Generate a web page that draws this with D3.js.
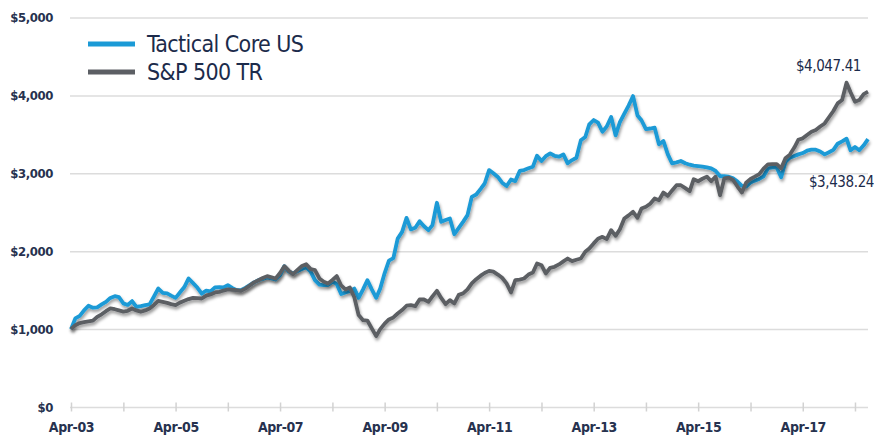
<html>
<head>
<style>
  body { margin: 0; background: #fff; }
  svg { display: block; }
  text { font-family: "Liberation Sans Narrow", "DejaVu Sans Condensed", "Roboto Condensed", sans-serif; fill: #1c2b4b; }
</style>
<script src="https://cdn.jsdelivr.net/npm/d3@7/dist/d3.min.js"></script>
</head>
<body>
<svg id="chart"></svg>
<script>
// monthly values, Apr-03 .. Jul-18
const seriesNames = ["Tactical Core US", "S&P 500 TR"]
const seriesColors = ["#1b9ad6", "#5c5f64"]

const tacticalCore = [
  1000, 1137, 1170, 1240, 1300, 1275, 1280, 1317, 1350, 1400, 1423, 1410,
  1330, 1310, 1359, 1285, 1295, 1308, 1317, 1420, 1521, 1465, 1458, 1430,
  1401, 1470, 1540, 1650, 1590, 1530, 1455, 1495, 1485, 1535, 1540, 1535,
  1564, 1530, 1500, 1500, 1530, 1565, 1600, 1628, 1645, 1663, 1650, 1637,
  1692, 1808, 1740, 1715, 1745, 1770, 1793, 1737, 1628, 1570, 1564, 1565,
  1608, 1580, 1450, 1470, 1490, 1520, 1401, 1510, 1628, 1510, 1401, 1522,
  1720, 1880, 1912, 2162, 2248, 2428, 2280, 2300, 2385, 2320, 2270, 2334,
  2622, 2377, 2400, 2420, 2218, 2300, 2377, 2463, 2698, 2728, 2800, 2869,
  3041, 3000, 2953, 2880, 2837, 2920, 2900, 3030, 3042, 3065, 3085, 3226,
  3158, 3220, 3255, 3225, 3213, 3243, 3128, 3170, 3200, 3423, 3466, 3628,
  3684, 3650, 3534, 3600, 3722, 3487, 3658, 3765, 3870, 3991, 3743, 3681,
  3568, 3575, 3585, 3372, 3415, 3243, 3128, 3140, 3158, 3130, 3110, 3099,
  3092, 3085, 3075, 3064, 3030, 2965, 2962, 2957, 2935, 2894, 2840, 2829,
  2880, 2906, 2927, 2960, 3065, 3077, 3075, 2949, 3145, 3200, 3222, 3243,
  3260, 3290, 3303, 3303, 3280, 3243, 3270, 3300, 3380, 3410, 3444, 3295,
  3337, 3295, 3359, 3438.24
]

const sp500tr = [
  1000, 1050, 1078, 1090, 1100, 1108, 1158, 1190, 1230, 1265, 1255, 1240,
  1225, 1235, 1265, 1240, 1222, 1240, 1265, 1310, 1363, 1350, 1337, 1320,
  1308, 1340, 1363, 1385, 1401, 1398, 1393, 1430, 1445, 1470, 1478, 1495,
  1509, 1505, 1500, 1491, 1520, 1560, 1600, 1628, 1655, 1680, 1665, 1650,
  1720, 1808, 1750, 1705, 1760, 1810, 1833, 1770, 1756, 1650, 1608, 1586,
  1630, 1680, 1560, 1509, 1535, 1408, 1180, 1115, 1110, 1010, 910, 1000,
  1070, 1124, 1150, 1200, 1244, 1300, 1308, 1295, 1381, 1380, 1350, 1420,
  1491, 1400, 1320, 1372, 1329, 1440, 1458, 1509, 1586, 1640, 1686, 1720,
  1748, 1737, 1700, 1659, 1586, 1470, 1628, 1635, 1650, 1700, 1727, 1843,
  1820, 1714, 1787, 1800, 1830, 1870, 1906, 1872, 1890, 1906, 1992, 2034,
  2100, 2160, 2184, 2154, 2270, 2197, 2282, 2420, 2460, 2505, 2428, 2548,
  2570, 2610, 2676, 2654, 2753, 2710, 2780, 2847, 2847, 2810, 2770, 2924,
  2898, 2930, 2957, 2898, 2957, 2718, 2936, 2944, 2914, 2830, 2753, 2880,
  2927, 2957, 2990, 3060, 3115, 3118, 3119, 3064, 3193, 3240, 3330, 3430,
  3449, 3492, 3534, 3556, 3600, 3640, 3720, 3800, 3898, 3940, 4163, 4040,
  3919, 3940, 4017, 4047.41
]

const yTicks = [0, 1000, 2000, 3000, 4000, 5000]
const xTickYears = d3.range(2003, 2019)
const endLabels = ["$3,438.24", "$4,047.41"]

const months = d3.timeMonth.range(new Date(2003, 3, 1), new Date(2018, 7, 1))

function drawChart() {
  let width = 874, height = 439
  let svg = d3.select("#chart").attr("width", width).attr("height", height)

  let x = d3.scaleTime()
    .domain([months[0], months[months.length - 1]])
    .range([71, 868])
  let y = d3.scaleLinear().domain([0, 5000]).range([407, 17.5])

  let defs = svg.append("defs")
  let f = defs.append("filter").attr("id", "shadow")
    .attr("x", "-5%").attr("y", "-10%").attr("width", "110%").attr("height", "130%")
  f.append("feDropShadow")
    .attr("dx", 1).attr("dy", 2.5).attr("stdDeviation", 1.8)
    .attr("flood-color", "#000").attr("flood-opacity", 0.4)

  // gridlines + y labels
  let yAxis = d3.axisLeft(y).tickValues(yTicks)
    .tickSize(-798).tickPadding(17)
    .tickFormat(d => "$" + d3.format(",")(d))
  let gy = svg.append("g").attr("transform", "translate(70,0)").call(yAxis)
  gy.select(".domain").remove()
  gy.selectAll("line").attr("stroke", "#dcdcdc").attr("stroke-width", 1.5)
  gy.selectAll("text").attr("font-size", 13).attr("font-weight", "bold")
    .style("fill", "#27324f").attr("letter-spacing", -0.4)

  // x axis ticks + labels
  let xAxis = d3.axisBottom(x)
    .tickValues(xTickYears.map(yr => new Date(yr, 3, 1)))
    .tickSize(9).tickPadding(11)
    .tickFormat(d => d.getFullYear() % 2 == 1 ? d3.timeFormat("%b-%y")(d) : "")
  let gx = svg.append("g").attr("transform", "translate(0,402.5)").call(xAxis)
  gx.select(".domain").remove()
  gx.selectAll("line").attr("stroke", "#d2d2d2").attr("stroke-width", 1.5)
  gx.selectAll("text").attr("font-size", 14).attr("font-weight", "bold")
    .style("fill", "#27324f").attr("letter-spacing", -0.4)

  // lines
  let line = d3.line().x((d, i) => x(months[i])).y(d => y(d))
  let data = [tacticalCore, sp500tr]
  svg.append("g").selectAll("path")
    .data(data)
    .enter().append("path")
    .attr("d", line)
    .attr("fill", "none")
    .attr("stroke", (d, i) => seriesColors[i])
    .attr("stroke-width", 3.8)
    .attr("stroke-linejoin", "round")
    .attr("filter", "url(#shadow)")

  // end value labels
  svg.append("text").attr("x", 874).attr("y", 187)
    .attr("text-anchor", "end").attr("font-size", 15).attr("letter-spacing", -0.4)
    .text(endLabels[0])
  svg.append("text").attr("x", 861).attr("y", 71)
    .attr("text-anchor", "end").attr("font-size", 15).attr("letter-spacing", -0.4)
    .text(endLabels[1])

  // legend
  let legend = svg.append("g").selectAll("g")
    .data(seriesNames)
    .enter().append("g")
    .attr("transform", (d, i) => `translate(88,${44 + i * 28})`)
  legend.append("line")
    .attr("x1", 0).attr("x2", 47)
    .attr("stroke", (d, i) => seriesColors[i])
    .attr("stroke-width", 5)
  legend.append("text")
    .attr("x", 59).attr("y", 8)
    .attr("font-size", 23)
    .attr("letter-spacing", -0.6)
    .text(d => d)
}

drawChart()
</script>
</body>
</html>
